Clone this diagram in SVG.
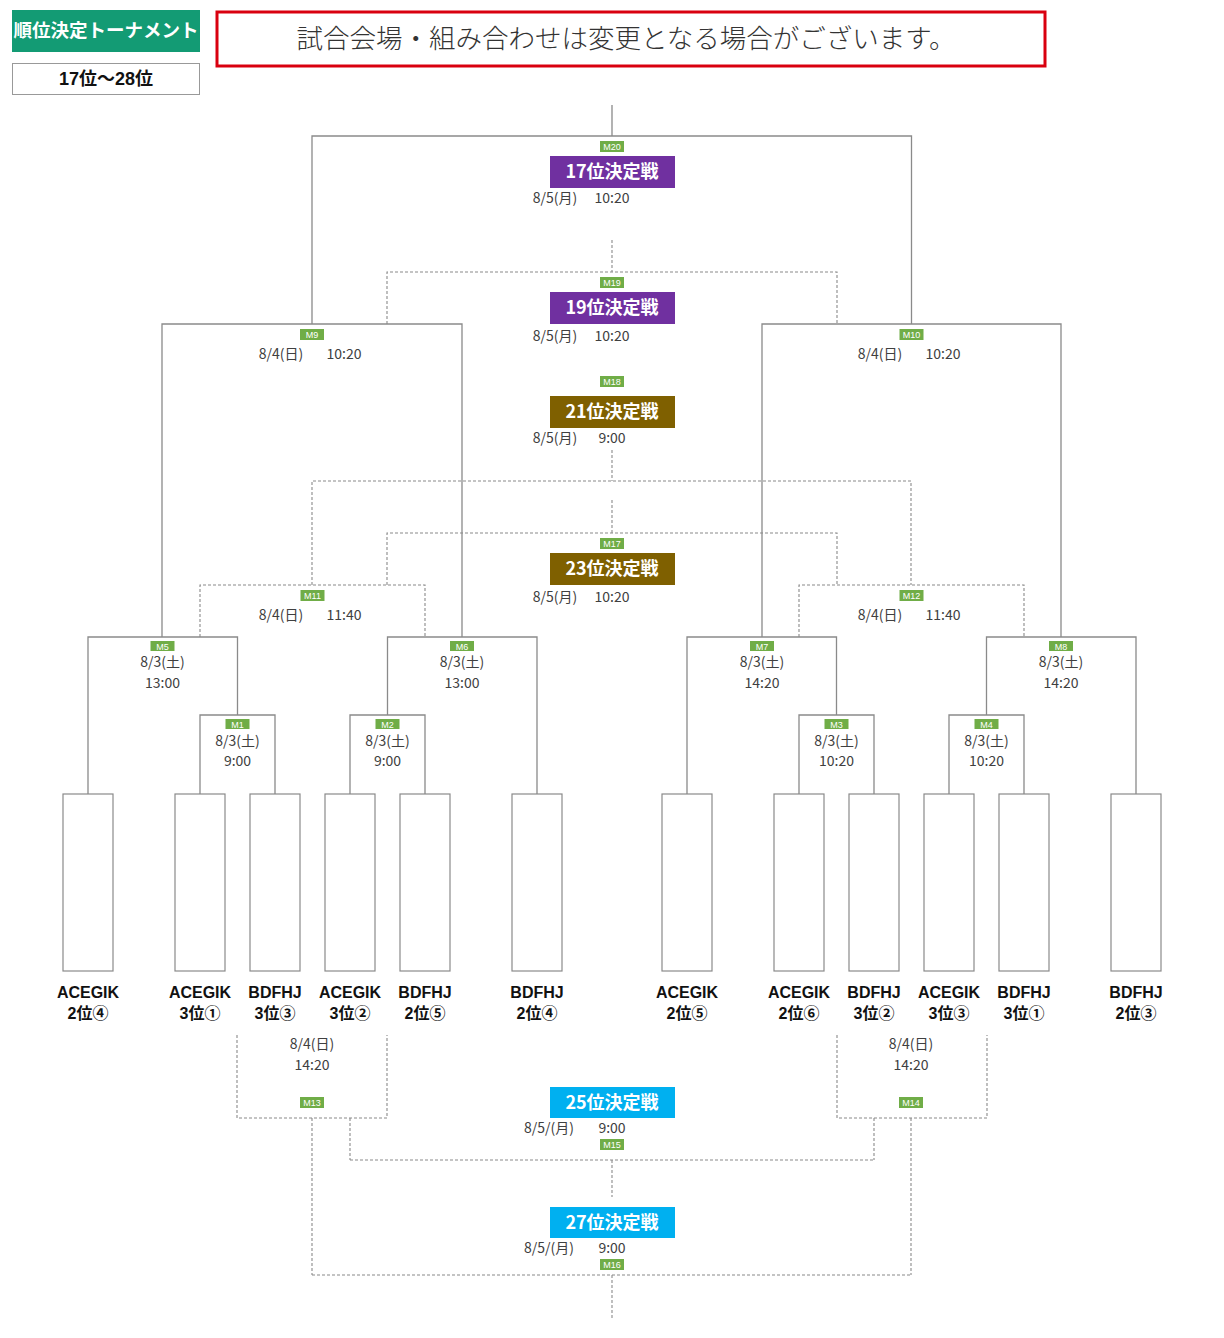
<svg xmlns="http://www.w3.org/2000/svg" width="1224" height="1338" viewBox="0 0 1224 1338">
<style>
.ln{fill:none;stroke:#8a8a8a;stroke-width:1.3}
.dl{fill:none;stroke:#8a8a8a;stroke-width:1.1;stroke-dasharray:3 2}
.tag{fill:#70ad47}
.tt{font-family:"Liberation Sans","Noto Sans CJK JP",sans-serif;font-size:9px;fill:#fff;text-anchor:middle}
.dt{font-family:"Noto Sans CJK JP","Liberation Sans",sans-serif;font-size:14px;fill:#404040;text-anchor:middle}
.ttl{font-family:"Noto Sans CJK JP","Liberation Sans",sans-serif;font-size:18px;font-weight:bold;fill:#fff;text-anchor:middle}
.lb{font-family:"Liberation Sans","Noto Sans CJK JP",sans-serif;font-size:16px;font-weight:bold;fill:#111;text-anchor:middle}
.leaf{fill:#fff;stroke:#8a8a8a;stroke-width:1.2}
</style>
<rect width="1224" height="1338" fill="#fff"/>
<g id="header">
<rect x="12" y="10" width="188" height="42" fill="#139b74"/>
<text x="106" y="37" font-family="Noto Sans CJK JP,sans-serif" font-size="18.5" font-weight="bold" fill="#fff" text-anchor="middle">順位決定トーナメント</text>
<rect x="12.5" y="63.5" width="187" height="31" fill="#fff" stroke="#999" stroke-width="1"/>
<text x="106" y="85" font-family="Liberation Sans,Noto Sans CJK JP,sans-serif" font-size="18" font-weight="bold" fill="#111" text-anchor="middle">17位～28位</text>
</g>
<g id="notice">
<rect x="217" y="12" width="828" height="54" fill="#fff" stroke="#d9000f" stroke-width="3"/>
<text x="626" y="48" font-family="Noto Sans CJK JP,sans-serif" font-size="26.5" font-weight="300" fill="#333" text-anchor="middle">試合会場・組み合わせは変更となる場合がございます。</text>
</g>
<g id="connectors">
<path class="ln" d="M612 105V136M312 324V136H911.5V324"/>
<path class="ln" d="M162 637V324H462V637"/>
<path class="ln" d="M762 637V324H1061V637"/>
<path class="ln" d="M88 794V637H237.5V715"/>
<path class="ln" d="M200 794V715H275V794"/>
<path class="ln" d="M387.5 715V637H537V794"/>
<path class="ln" d="M350 794V715H425V794"/>
<path class="ln" d="M687 794V637H836.5V715"/>
<path class="ln" d="M799 794V715H874V794"/>
<path class="ln" d="M986.5 715V637H1136V794"/>
<path class="ln" d="M949 794V715H1024V794"/>
<path class="dl" d="M612 240V272M387 324V272H837V324"/>
<path class="dl" d="M612 450V481M312 585V481H911V585"/>
<path class="dl" d="M612 500V533M387 585V533H837V585"/>
<path class="dl" d="M200 637V585H425V637"/>
<path class="dl" d="M799 637V585H1024V637"/>
<path class="dl" d="M237 1035V1118H387V1035M312 1118V1275M350 1118V1160"/>
<path class="dl" d="M837 1035V1118H987V1035M874 1118V1160M911 1118V1275"/>
<path class="dl" d="M350 1160H874M612 1160V1197"/>
<path class="dl" d="M312 1275H911M612 1275V1318"/>
</g>
<g id="M20">
<rect class="tag" x="600" y="141" width="24" height="11"/><text class="tt" x="612" y="150">M20</text>
<rect x="550" y="156" width="125" height="32" fill="#7030a0"/><text class="ttl" x="612" y="178">17位決定戦</text>
<text class="dt" x="555" y="203">8/5(月)</text><text class="dt" x="612" y="203">10:20</text>
</g>
<g id="M19">
<rect class="tag" x="600" y="277" width="24" height="11"/><text class="tt" x="612" y="286">M19</text>
<rect x="550" y="292" width="125" height="32" fill="#7030a0"/><text class="ttl" x="612" y="314">19位決定戦</text>
<text class="dt" x="555" y="341">8/5(月)</text><text class="dt" x="612" y="341">10:20</text>
</g>
<g id="M18">
<rect class="tag" x="600" y="376" width="24" height="11"/><text class="tt" x="612" y="385">M18</text>
<rect x="550" y="396" width="125" height="32" fill="#7f6000"/><text class="ttl" x="612" y="418">21位決定戦</text>
<text class="dt" x="555" y="443">8/5(月)</text><text class="dt" x="612" y="443">9:00</text>
</g>
<g id="M17">
<rect class="tag" x="600" y="538" width="24" height="11"/><text class="tt" x="612" y="547">M17</text>
<rect x="550" y="553" width="125" height="32" fill="#7f6000"/><text class="ttl" x="612" y="575">23位決定戦</text>
<text class="dt" x="555" y="602">8/5(月)</text><text class="dt" x="612" y="602">10:20</text>
</g>
<g id="M9">
<rect class="tag" x="300" y="329" width="24" height="11"/><text class="tt" x="312" y="338">M9</text>
<text class="dt" x="281" y="359">8/4(日)</text><text class="dt" x="344" y="359">10:20</text>
</g>
<g id="M10">
<rect class="tag" x="899.5" y="329" width="24" height="11"/><text class="tt" x="911.5" y="338">M10</text>
<text class="dt" x="880" y="359">8/4(日)</text><text class="dt" x="943" y="359">10:20</text>
</g>
<g id="M11">
<rect class="tag" x="300.5" y="590" width="24" height="11"/><text class="tt" x="312.5" y="599">M11</text>
<text class="dt" x="281" y="620">8/4(日)</text><text class="dt" x="344" y="620">11:40</text>
</g>
<g id="M12">
<rect class="tag" x="899.5" y="590" width="24" height="11"/><text class="tt" x="911.5" y="599">M12</text>
<text class="dt" x="880" y="620">8/4(日)</text><text class="dt" x="943" y="620">11:40</text>
</g>
<g id="M5">
<rect class="tag" x="150.5" y="641" width="24" height="10"/><text class="tt" x="162.5" y="649.5">M5</text>
<text class="dt" x="162.5" y="667">8/3(土)</text><text class="dt" x="162.5" y="688">13:00</text>
</g>
<g id="M6">
<rect class="tag" x="450" y="641" width="24" height="10"/><text class="tt" x="462" y="649.5">M6</text>
<text class="dt" x="462" y="667">8/3(土)</text><text class="dt" x="462" y="688">13:00</text>
</g>
<g id="M7">
<rect class="tag" x="750" y="641" width="24" height="10"/><text class="tt" x="762" y="649.5">M7</text>
<text class="dt" x="762" y="667">8/3(土)</text><text class="dt" x="762" y="688">14:20</text>
</g>
<g id="M8">
<rect class="tag" x="1049" y="641" width="24" height="10"/><text class="tt" x="1061" y="649.5">M8</text>
<text class="dt" x="1061" y="667">8/3(土)</text><text class="dt" x="1061" y="688">14:20</text>
</g>
<g id="M1">
<rect class="tag" x="225.5" y="719" width="24" height="10"/><text class="tt" x="237.5" y="727.5">M1</text>
<text class="dt" x="237.5" y="746">8/3(土)</text><text class="dt" x="237.5" y="766">9:00</text>
</g>
<g id="M2">
<rect class="tag" x="375.5" y="719" width="24" height="10"/><text class="tt" x="387.5" y="727.5">M2</text>
<text class="dt" x="387.5" y="746">8/3(土)</text><text class="dt" x="387.5" y="766">9:00</text>
</g>
<g id="M3">
<rect class="tag" x="824.5" y="719" width="24" height="10"/><text class="tt" x="836.5" y="727.5">M3</text>
<text class="dt" x="836.5" y="746">8/3(土)</text><text class="dt" x="836.5" y="766">10:20</text>
</g>
<g id="M4">
<rect class="tag" x="974.5" y="719" width="24" height="10"/><text class="tt" x="986.5" y="727.5">M4</text>
<text class="dt" x="986.5" y="746">8/3(土)</text><text class="dt" x="986.5" y="766">10:20</text>
</g>
<g id="M13">
<text class="dt" x="312" y="1049">8/4(日)</text><text class="dt" x="312" y="1070">14:20</text>
<rect class="tag" x="300" y="1097" width="24" height="11"/><text class="tt" x="312" y="1106">M13</text>
</g>
<g id="M14">
<text class="dt" x="911" y="1049">8/4(日)</text><text class="dt" x="911" y="1070">14:20</text>
<rect class="tag" x="899" y="1097" width="24" height="11"/><text class="tt" x="911" y="1106">M14</text>
</g>
<g id="M15">
<rect x="550" y="1087" width="125" height="31" fill="#00b0f0"/><text class="ttl" x="612" y="1109">25位決定戦</text>
<text class="dt" x="549" y="1133">8/5/(月)</text><text class="dt" x="612" y="1133">9:00</text>
<rect class="tag" x="600" y="1139" width="24" height="11"/><text class="tt" x="612" y="1148">M15</text>
</g>
<g id="M16">
<rect x="550" y="1207" width="125" height="31" fill="#00b0f0"/><text class="ttl" x="612" y="1229">27位決定戦</text>
<text class="dt" x="549" y="1253">8/5/(月)</text><text class="dt" x="612" y="1253">9:00</text>
<rect class="tag" x="600" y="1259" width="24" height="11"/><text class="tt" x="612" y="1268">M16</text>
</g>
<g id="team1"><rect class="leaf" x="63" y="794" width="50" height="177"/><text class="lb" x="88" y="998">ACEGIK</text><text class="lb" x="88" y="1019">2位④</text></g>
<g id="team2"><rect class="leaf" x="175" y="794" width="50" height="177"/><text class="lb" x="200" y="998">ACEGIK</text><text class="lb" x="200" y="1019">3位①</text></g>
<g id="team3"><rect class="leaf" x="250" y="794" width="50" height="177"/><text class="lb" x="275" y="998">BDFHJ</text><text class="lb" x="275" y="1019">3位③</text></g>
<g id="team4"><rect class="leaf" x="325" y="794" width="50" height="177"/><text class="lb" x="350" y="998">ACEGIK</text><text class="lb" x="350" y="1019">3位②</text></g>
<g id="team5"><rect class="leaf" x="400" y="794" width="50" height="177"/><text class="lb" x="425" y="998">BDFHJ</text><text class="lb" x="425" y="1019">2位⑤</text></g>
<g id="team6"><rect class="leaf" x="512" y="794" width="50" height="177"/><text class="lb" x="537" y="998">BDFHJ</text><text class="lb" x="537" y="1019">2位④</text></g>
<g id="team7"><rect class="leaf" x="662" y="794" width="50" height="177"/><text class="lb" x="687" y="998">ACEGIK</text><text class="lb" x="687" y="1019">2位⑤</text></g>
<g id="team8"><rect class="leaf" x="774" y="794" width="50" height="177"/><text class="lb" x="799" y="998">ACEGIK</text><text class="lb" x="799" y="1019">2位⑥</text></g>
<g id="team9"><rect class="leaf" x="849" y="794" width="50" height="177"/><text class="lb" x="874" y="998">BDFHJ</text><text class="lb" x="874" y="1019">3位②</text></g>
<g id="team10"><rect class="leaf" x="924" y="794" width="50" height="177"/><text class="lb" x="949" y="998">ACEGIK</text><text class="lb" x="949" y="1019">3位③</text></g>
<g id="team11"><rect class="leaf" x="999" y="794" width="50" height="177"/><text class="lb" x="1024" y="998">BDFHJ</text><text class="lb" x="1024" y="1019">3位①</text></g>
<g id="team12"><rect class="leaf" x="1111" y="794" width="50" height="177"/><text class="lb" x="1136" y="998">BDFHJ</text><text class="lb" x="1136" y="1019">2位③</text></g>
</svg>
